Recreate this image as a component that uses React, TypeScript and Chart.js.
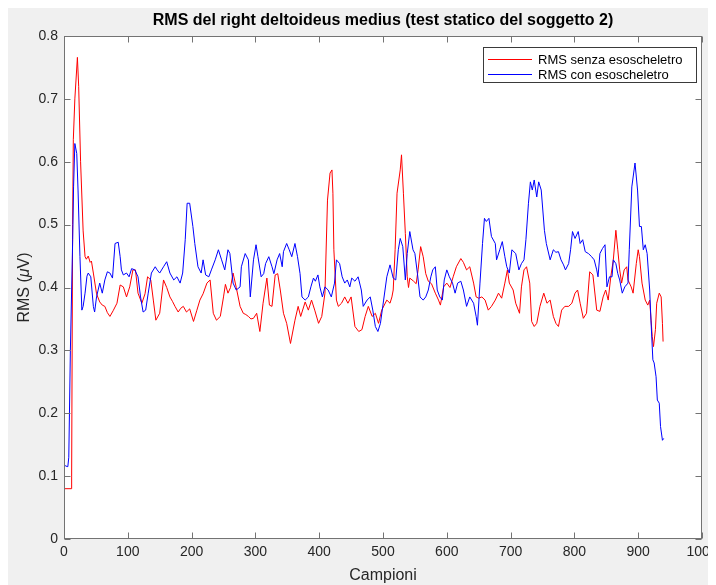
import { useEffect, useRef } from "react";
import { Chart, registerables } from "chart.js";

Chart.register(...registerables);

// RMS without exoskeleton (sample index, value in µV)
const samplesSenza = [
  0, 11, 12, 13.5, 14.6, 17, 21, 23, 26, 30, 33, 35, 38, 41, 43, 46, 51, 56, 60, 64, 68, 72, 77, 83, 88,
  93, 98, 103, 108, 112, 116, 122, 127, 131, 136, 140, 144, 150, 156, 161, 166, 170, 174, 179, 183, 187,
  192, 197, 203, 208, 213, 218, 224, 229, 234, 239, 245, 250, 253, 257, 261, 265, 270, 276, 281, 285,
  289, 293, 297, 302, 307, 312, 318, 322, 326, 331, 335, 339, 344, 349, 355, 362, 367, 371, 378, 383,
  388, 393, 399, 404, 409, 413, 417, 420, 421.5, 423, 427, 430, 435, 440, 445, 450, 456, 462, 467, 472,
  477, 483, 488, 493, 498, 506, 511, 514, 516, 519, 522, 527, 529, 532, 535, 538, 540, 542, 548, 552,
  555, 559, 563, 567, 571, 576, 582, 587, 590, 595, 600, 605, 610, 615, 622, 626, 631, 636, 642, 646,
  650, 655, 660, 665, 670, 676, 681, 686, 691, 695, 698, 704, 708, 714, 717, 721, 725, 730, 733, 737,
  741, 746, 752, 757, 762, 767, 771, 775, 780, 785, 791, 796, 801, 805, 809, 814, 819, 824, 829, 835,
  840, 845, 849, 853, 857, 861, 865, 868, 871, 874, 878, 882, 884, 889, 892, 897, 900, 902, 906, 911,
  915, 918, 922, 924, 927, 929, 933, 936, 938, 939,
];
const rmsSenza = [
  0.08, 0.08, 0.1, 0.5, 0.635, 0.7, 0.766, 0.72, 0.6, 0.49, 0.449, 0.445, 0.45, 0.44, 0.442, 0.423,
  0.39, 0.377, 0.372, 0.37, 0.36, 0.354, 0.363, 0.375, 0.404, 0.401, 0.385, 0.401, 0.428, 0.428, 0.391,
  0.375, 0.39, 0.417, 0.412, 0.38, 0.348, 0.359, 0.412, 0.4, 0.385, 0.378, 0.37, 0.361, 0.367, 0.37,
  0.361, 0.366, 0.346, 0.363, 0.38, 0.39, 0.407, 0.412, 0.359, 0.348, 0.354, 0.385, 0.405, 0.391, 0.4,
  0.423, 0.4, 0.37, 0.359, 0.357, 0.354, 0.35, 0.351, 0.359, 0.33, 0.375, 0.415, 0.372, 0.37, 0.42,
  0.422, 0.396, 0.359, 0.343, 0.311, 0.348, 0.37, 0.354, 0.377, 0.364, 0.38, 0.364, 0.343, 0.354, 0.391,
  0.539, 0.582, 0.587, 0.55, 0.46, 0.38, 0.37, 0.375, 0.385, 0.375, 0.385, 0.338, 0.33, 0.333, 0.354,
  0.37, 0.354, 0.359, 0.343, 0.364, 0.38, 0.375, 0.385, 0.396, 0.46, 0.55, 0.587, 0.611, 0.55, 0.486,
  0.417, 0.4, 0.415, 0.41, 0.406, 0.428, 0.465, 0.449, 0.422, 0.41, 0.406, 0.391, 0.38, 0.372, 0.401,
  0.407, 0.4, 0.417, 0.433, 0.446, 0.44, 0.428, 0.433, 0.407, 0.385, 0.383, 0.385, 0.38, 0.364, 0.37,
  0.38, 0.391, 0.383, 0.407, 0.428, 0.407, 0.396, 0.375, 0.359, 0.401, 0.428, 0.433, 0.407, 0.346,
  0.338, 0.343, 0.37, 0.391, 0.375, 0.38, 0.354, 0.343, 0.338, 0.364, 0.37, 0.37, 0.375, 0.391, 0.396,
  0.375, 0.351, 0.359, 0.425, 0.42, 0.364, 0.362, 0.385, 0.396, 0.38, 0.417, 0.444, 0.491, 0.46, 0.428,
  0.407, 0.428, 0.433, 0.412, 0.401, 0.391, 0.438, 0.46, 0.449, 0.407, 0.38, 0.372, 0.38, 0.322, 0.306,
  0.333, 0.375, 0.391, 0.385, 0.343, 0.314,
];

// RMS with exoskeleton (sample index, value in µV)
const samplesCon = [
  0, 3, 6, 7.5, 10, 13.6, 15, 17, 20, 22, 25, 28, 30, 33, 36, 38, 42, 46, 48, 51, 56, 60, 64, 68, 72,
  76, 80, 85, 88, 90, 93, 98, 102, 106, 111, 116, 120, 124, 128, 132, 137, 143, 146, 150, 156, 161, 166,
  172, 177, 182, 186, 190, 193, 197, 202, 205, 210, 215, 218, 222, 227, 231, 237, 242, 247, 252, 257,
  260, 265, 270, 276, 278, 284, 289, 292, 297, 301, 304, 309, 313, 316, 321, 326, 329, 334, 338, 342,
  344, 349, 353, 357, 362, 366, 370, 373, 378, 383, 387, 391, 394, 398, 401, 405, 409, 414, 419, 424,
  427, 432, 436, 440, 444, 448, 451, 456, 461, 466, 469, 475, 480, 484, 488, 492, 496, 501, 506, 511,
  516, 520, 524, 527, 531, 535, 538, 542, 547, 550, 554, 558, 563, 567, 571, 575, 578, 582, 585, 589,
  593, 596, 600, 604, 609, 613, 617, 622, 626, 631, 636, 642, 646, 648, 652, 656, 659, 662, 666, 670,
  676, 678, 683, 687, 691, 694, 698, 702, 708, 713, 717, 721, 724, 728, 731, 734, 737, 741, 744, 748,
  753, 756, 762, 767, 771, 775, 779, 783, 786, 791, 794, 797, 801, 806, 809, 813, 817, 822, 827, 831,
  835, 837, 840, 844, 848, 851, 855, 859, 861, 865, 868, 871, 875, 879, 884, 886, 890, 895, 899, 902,
  905, 908, 911, 914, 918, 920, 923, 925, 928, 930, 933, 935, 938, 940,
];
const rmsCon = [
  0.118, 0.116, 0.115, 0.13, 0.3, 0.476, 0.56, 0.629, 0.613, 0.555, 0.449, 0.364, 0.37, 0.391, 0.418,
  0.423, 0.417, 0.37, 0.361, 0.385, 0.407, 0.391, 0.412, 0.425, 0.423, 0.415, 0.47, 0.472, 0.449, 0.428,
  0.42, 0.423, 0.417, 0.43, 0.428, 0.417, 0.385, 0.361, 0.364, 0.391, 0.423, 0.433, 0.428, 0.423, 0.433,
  0.441, 0.423, 0.412, 0.417, 0.407, 0.423, 0.476, 0.534, 0.534, 0.497, 0.47, 0.433, 0.423, 0.444, 0.42,
  0.417, 0.428, 0.444, 0.46, 0.444, 0.428, 0.46, 0.454, 0.407, 0.396, 0.401, 0.433, 0.454, 0.444, 0.385,
  0.444, 0.468, 0.449, 0.417, 0.422, 0.438, 0.449, 0.433, 0.422, 0.444, 0.454, 0.433, 0.457, 0.47, 0.46,
  0.449, 0.47, 0.449, 0.422, 0.385, 0.38, 0.385, 0.401, 0.415, 0.41, 0.42, 0.401, 0.385, 0.401, 0.396,
  0.385, 0.407, 0.444, 0.438, 0.417, 0.407, 0.412, 0.401, 0.415, 0.41, 0.417, 0.396, 0.37, 0.38, 0.385,
  0.364, 0.338, 0.33, 0.343, 0.38, 0.417, 0.436, 0.415, 0.412, 0.46, 0.478, 0.465, 0.412, 0.454, 0.489,
  0.46, 0.454, 0.422, 0.385, 0.38, 0.385, 0.396, 0.417, 0.428, 0.433, 0.396, 0.385, 0.38, 0.412, 0.428,
  0.417, 0.407, 0.391, 0.407, 0.41, 0.396, 0.37, 0.385, 0.375, 0.354, 0.34, 0.407, 0.47, 0.51, 0.505,
  0.51, 0.481, 0.47, 0.444, 0.46, 0.473, 0.449, 0.433, 0.423, 0.46, 0.454, 0.428, 0.438, 0.444, 0.476,
  0.534, 0.568, 0.555, 0.571, 0.544, 0.568, 0.555, 0.491, 0.47, 0.444, 0.46, 0.456, 0.457, 0.444, 0.436,
  0.428, 0.438, 0.46, 0.489, 0.478, 0.489, 0.47, 0.476, 0.457, 0.454, 0.449, 0.444, 0.428, 0.417, 0.454,
  0.462, 0.468, 0.401, 0.417, 0.417, 0.444, 0.438, 0.422, 0.412, 0.391, 0.401, 0.407, 0.46, 0.56, 0.598,
  0.555, 0.497, 0.497, 0.46, 0.468, 0.454, 0.396, 0.348, 0.285, 0.28, 0.258, 0.221, 0.216, 0.179, 0.157,
  0.16,
];

const xTickValues = [0, 100, 200, 300, 400, 500, 600, 700, 800, 900, 1000];
const yTickValues = [0, 0.1, 0.2, 0.3, 0.4, 0.5, 0.6, 0.7, 0.8];
const yTickLabels = ["0", "0.1", "0.2", "0.3", "0.4", "0.5", "0.6", "0.7", "0.8"];
const seriesLabels = ["RMS senza esoscheletro", "RMS con esoscheletro"];
const seriesColors = ["#ff0000", "#0000ff"];

const FONT = "'Liberation Sans', Arial, Helvetica, sans-serif";
const AXIS_COLOR = "#737373";
const LEGEND_EDGE = "#3a3a3a";
const TEXT_COLOR = "#262626";
const TICK_LEN = 6;

const toPoints = (xs: number[], ys: number[]) => xs.map((x, i) => ({ x, y: ys[i] }));

// White plot area, boxed axes with inward ticks on all four sides
const framePlugin = {
  id: "matlabFrame",
  beforeDatasetsDraw(chart: any) {
    const { ctx, chartArea: a } = chart;
    ctx.save();
    ctx.fillStyle = "#ffffff";
    ctx.fillRect(a.left, a.top, a.right - a.left, a.bottom - a.top);
    ctx.restore();
  },
  afterDatasetsDraw(chart: any) {
    const { ctx, chartArea: a, scales } = chart;
    const l = Math.round(a.left) + 0.5;
    const r = Math.round(a.right) - 0.5;
    const t = Math.round(a.top) + 0.5;
    const b = Math.round(a.bottom) - 0.5;
    ctx.save();
    ctx.strokeStyle = AXIS_COLOR;
    ctx.lineWidth = 1;
    ctx.strokeRect(l, t, r - l, b - t);
    ctx.beginPath();
    scales.x.ticks.forEach((tk: any) => {
      const px = Math.round(scales.x.getPixelForValue(tk.value)) + 0.5;
      ctx.moveTo(px, b);
      ctx.lineTo(px, b - TICK_LEN);
      ctx.moveTo(px, t);
      ctx.lineTo(px, t + TICK_LEN);
    });
    scales.y.ticks.forEach((tk: any) => {
      const py = Math.round(scales.y.getPixelForValue(tk.value)) + 0.5;
      ctx.moveTo(l, py);
      ctx.lineTo(l + TICK_LEN, py);
      ctx.moveTo(r, py);
      ctx.lineTo(r - TICK_LEN, py);
    });
    ctx.stroke();
    ctx.restore();
  },
};

// Y axis title with an italic mu
const yTitlePlugin = {
  id: "yTitle",
  afterDraw(chart: any) {
    const { ctx, chartArea: a } = chart;
    const parts = [
      { text: "RMS (", font: `16px ${FONT}` },
      { text: "\u03bc", font: `italic 16px ${FONT}` },
      { text: "V)", font: `16px ${FONT}` },
    ];
    ctx.save();
    ctx.translate(17, (a.top + a.bottom) / 2);
    ctx.rotate(-Math.PI / 2);
    ctx.fillStyle = TEXT_COLOR;
    ctx.textBaseline = "middle";
    ctx.textAlign = "left";
    let total = 0;
    const widths = parts.map((p) => {
      ctx.font = p.font;
      const w = ctx.measureText(p.text).width;
      total += w;
      return w;
    });
    let x = -total / 2;
    parts.forEach((p, i) => {
      ctx.font = p.font;
      ctx.fillText(p.text, x, 0);
      x += widths[i];
    });
    ctx.restore();
  },
};

// Boxed legend in the upper-right corner of the axes
const legendPlugin = {
  id: "boxLegend",
  afterDraw(chart: any) {
    const { ctx, chartArea: a } = chart;
    const datasets = chart.data.datasets;
    ctx.save();
    ctx.font = `13px ${FONT}`;
    const textW = Math.max(...datasets.map((d: any) => ctx.measureText(d.label).width));
    const lineLen = 44;
    const padL = 5;
    const gap = 6;
    const padR = 14;
    const rowH = 15;
    const boxW = padL + lineLen + gap + textW + padR;
    const boxH = 36;
    const right = Math.round(a.right) - 5;
    const left = right - Math.round(boxW);
    const top = Math.round(a.top) + 11;
    ctx.fillStyle = "#ffffff";
    ctx.fillRect(left, top, right - left, boxH);
    ctx.strokeStyle = LEGEND_EDGE;
    ctx.lineWidth = 1;
    ctx.strokeRect(left + 0.5, top + 0.5, right - left - 1, boxH - 1);
    datasets.forEach((d: any, i: number) => {
      const cy = top + 12 + i * rowH;
      ctx.strokeStyle = d.borderColor;
      ctx.beginPath();
      ctx.moveTo(left + padL, cy + 0.5);
      ctx.lineTo(left + padL + lineLen, cy + 0.5);
      ctx.stroke();
      ctx.fillStyle = "#000000";
      ctx.textBaseline = "middle";
      ctx.textAlign = "left";
      ctx.fillText(d.label, left + padL + lineLen + gap, cy + 1);
    });
    ctx.restore();
  },
};

export default function App() {
  const canvasRef = useRef<HTMLCanvasElement | null>(null);

  useEffect(() => {
    if (!canvasRef.current) return;
    const chart = new Chart(canvasRef.current, {
      type: "line",
      data: {
        datasets: [
          {
            label: seriesLabels[0],
            data: toPoints(samplesSenza, rmsSenza),
            borderColor: seriesColors[0],
            borderWidth: 1,
            pointRadius: 0,
            tension: 0,
            order: 1,
          },
          {
            label: seriesLabels[1],
            data: toPoints(samplesCon, rmsCon),
            borderColor: seriesColors[1],
            borderWidth: 1,
            pointRadius: 0,
            tension: 0,
            order: 0,
          },
        ],
      },
      options: {
        animation: false,
        responsive: false,
        maintainAspectRatio: false,
        parsing: false as any,
        layout: { padding: { left: 0, right: 14, top: 0, bottom: 0 } },
        plugins: {
          legend: { display: false },
          tooltip: { enabled: false },
          title: {
            display: true,
            text: "RMS del right deltoideus medius (test statico del soggetto 2)",
            fullSize: false,
            color: "#000000",
            font: { family: FONT, size: 16, weight: "bold", lineHeight: 1.2 },
            padding: { top: 3, bottom: 5.8 },
          },
        },
        scales: {
          x: {
            type: "linear",
            min: 0,
            max: 1000,
            grid: { display: false, drawTicks: false },
            border: { display: false },
            afterBuildTicks: (scale: any) => {
              scale.ticks = xTickValues.map((v) => ({ value: v }));
            },
            afterFit: (scale: any) => {
              scale.height = 46;
              scale.paddingLeft = 0;
              scale.paddingRight = 0;
            },
            ticks: {
              color: TEXT_COLOR,
              font: { family: FONT, size: 14 },
              padding: 5,
              maxRotation: 0,
              autoSkip: false,
              callback: (v: any) => String(v),
            },
            title: {
              display: true,
              text: "Campioni",
              color: TEXT_COLOR,
              font: { family: FONT, size: 16, lineHeight: 1.2 },
              padding: { top: 0, bottom: 0 },
            },
          },
          y: {
            type: "linear",
            min: 0,
            max: 0.8,
            grid: { display: false, drawTicks: false },
            border: { display: false },
            afterBuildTicks: (scale: any) => {
              scale.ticks = yTickValues.map((v) => ({ value: v }));
            },
            afterFit: (scale: any) => {
              scale.width = 56;
              scale.paddingTop = 0;
              scale.paddingBottom = 0;
            },
            ticks: {
              color: TEXT_COLOR,
              font: { family: FONT, size: 14 },
              padding: 6,
              autoSkip: false,
              callback: (_v: any, i: number) => yTickLabels[i],
            },
          },
        },
      },
      plugins: [framePlugin, yTitlePlugin, legendPlugin],
    });
    return () => chart.destroy();
  }, []);

  return (
    <div style={{ width: 708, height: 577, background: "#f0f0f0" }}>
      <canvas ref={canvasRef} width={708} height={577} style={{ display: "block" }} />
    </div>
  );
}
